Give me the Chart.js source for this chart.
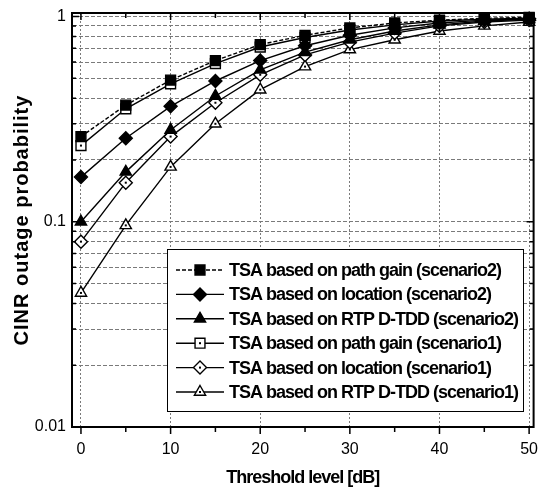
<!DOCTYPE html>
<html>
<head>
<meta charset="utf-8">
<script src="https://cdn.jsdelivr.net/npm/chart.js@4.4.0/dist/chart.umd.min.js"></script>
<style>
  html, body { margin: 0; padding: 0; background: #fff; }
  canvas { display: block; }
</style>
</head>
<body>
<canvas id="chart" width="542" height="493"></canvas>
<script>
// Data
const thresholds = [0, 5, 10, 15, 20, 25, 30, 35, 40, 45, 50];
const pathGainS2 = [0.26, 0.37, 0.49, 0.61, 0.73, 0.81, 0.88, 0.93, 0.96, 0.98, 0.99];
const locationS2 = [0.165, 0.255, 0.365, 0.485, 0.61, 0.72, 0.81, 0.88, 0.93, 0.96, 0.975];
const rtpS2 = [0.10, 0.175, 0.28, 0.41, 0.55, 0.67, 0.77, 0.85, 0.91, 0.95, 0.97];
const pathGainS1 = [0.235, 0.355, 0.47, 0.59, 0.71, 0.79, 0.86, 0.91, 0.95, 0.97, 0.98];
const locationS1 = [0.08, 0.155, 0.26, 0.38, 0.52, 0.65, 0.75, 0.83, 0.90, 0.94, 0.96];
const rtpS1 = [0.045, 0.096, 0.185, 0.30, 0.44, 0.57, 0.69, 0.77, 0.85, 0.90, 0.94];

const seriesLabels = [
  'TSA based on path gain (scenario2)',
  'TSA based on location (scenario2)',
  'TSA based on RTP D-TDD (scenario2)',
  'TSA based on path gain (scenario1)',
  'TSA based on location (scenario1)',
  'TSA based on RTP D-TDD (scenario1)'
];

const xTickValues = [0, 5, 10, 15, 20, 25, 30, 35, 40, 45, 50];
const yTickValues = [0.01, 0.02, 0.03, 0.04, 0.05, 0.06, 0.07, 0.08, 0.09,
  0.1, 0.2, 0.3, 0.4, 0.5, 0.6, 0.7, 0.8, 0.9, 1];
const yTickLabels = { 0.01: '0.01', 0.1: '0.1', 1: '1' };

const FONT = "'Liberation Sans', Arial, sans-serif";
const OPEN_SERIES = [3, 4, 5];

Chart.defaults.font.family = FONT;
Chart.defaults.color = '#000';

function makeSeries(label, data, style, filled, dash) {
  return {
    label: label,
    data: thresholds.map((t, i) => ({ x: t, y: data[i] })),
    borderColor: '#000',
    borderWidth: 1.4,
    borderDash: dash || [],
    pointStyle: style,
    pointRadius: style === 'rect' ? 7 : 6.5,
    pointBorderWidth: 1.4,
    pointBorderColor: '#000',
    pointBackgroundColor: filled ? '#000' : '#fff',
    tension: 0,
    clip: false
  };
}

// Frame, inward ticks, axis titles and the boxed legend
const decorations = {
  id: 'decorations',
  afterDatasetsDraw(chart) {
    const ctx = chart.ctx;
    ctx.save();
    ctx.fillStyle = '#000';
    OPEN_SERIES.forEach(i => {
      chart.getDatasetMeta(i).data.forEach(pt => {
        ctx.fillRect(pt.x - 1, pt.y - 1, 2, 2);
      });
    });
    ctx.restore();
  },
  afterDraw(chart) {
    const { ctx, chartArea: a, scales: { x, y } } = chart;
    ctx.save();
    ctx.strokeStyle = '#000';
    ctx.lineWidth = 2;
    ctx.strokeRect(a.left, a.top, a.right - a.left, a.bottom - a.top);

    ctx.lineWidth = 1.5;
    ctx.beginPath();
    yTickValues.forEach(v => {
      const py = y.getPixelForValue(v);
      const len = yTickLabels[v] ? 7 : 4;
      ctx.moveTo(a.left, py); ctx.lineTo(a.left + len, py);
      ctx.moveTo(a.right, py); ctx.lineTo(a.right - len, py);
    });
    xTickValues.forEach(v => {
      const px = x.getPixelForValue(v);
      const len = v % 10 === 0 ? 7 : 5;
      ctx.moveTo(px, a.bottom); ctx.lineTo(px, a.bottom + len);
      ctx.moveTo(px, a.top); ctx.lineTo(px, a.top + len);
    });
    ctx.stroke();

    // axis titles
    ctx.fillStyle = '#000';
    ctx.textAlign = 'center';
    ctx.textBaseline = 'middle';
    ctx.font = 'bold 18px ' + FONT;
    ctx.letterSpacing = '-1px';
    ctx.fillText('Threshold level [dB]', (a.left + a.right) / 2, 478);

    ctx.save();
    ctx.translate(22, (a.top + a.bottom) / 2);
    ctx.rotate(-Math.PI / 2);
    ctx.font = 'bold 20px ' + FONT;
    ctx.letterSpacing = '1px';
    ctx.fillText('CINR outage probability', 0, 0);
    ctx.restore();

    // legend
    const box = { left: 167, top: 249, right: 523, bottom: 411 };
    ctx.fillStyle = '#fff';
    ctx.fillRect(box.left, box.top, box.right - box.left, box.bottom - box.top);
    ctx.lineWidth = 1;
    ctx.strokeRect(box.left + 0.5, box.top + 0.5, box.right - box.left, box.bottom - box.top);

    ctx.font = 'bold 18px ' + FONT;
    ctx.letterSpacing = '-1px';
    ctx.textAlign = 'left';
    chart.data.datasets.forEach((ds, i) => {
      const ry = 270 + i * 24.4;
      ctx.strokeStyle = '#000';
      ctx.lineWidth = 1.4;
      ctx.setLineDash(ds.borderDash);
      ctx.beginPath();
      ctx.moveTo(176, ry); ctx.lineTo(224, ry);
      ctx.stroke();
      ctx.setLineDash([]);
      ctx.fillStyle = ds.pointBackgroundColor;
      Chart.helpers.drawPoint(ctx, {
        pointStyle: ds.pointStyle, radius: ds.pointRadius, borderWidth: 1.4, rotation: 0
      }, 200, ry);
      if (OPEN_SERIES.includes(i)) {
        ctx.fillStyle = '#000';
        ctx.fillRect(199, ry - 1, 2, 2);
      }
      ctx.fillStyle = '#000';
      ctx.fillText(ds.label, 229, ry + 1);
    });
    ctx.restore();
  }
};

new Chart(document.getElementById('chart'), {
  type: 'line',
  data: {
    datasets: [
      makeSeries(seriesLabels[0], pathGainS2, 'rect', true, [4, 2]),
      makeSeries(seriesLabels[1], locationS2, 'rectRot', true),
      makeSeries(seriesLabels[2], rtpS2, 'triangle', true),
      makeSeries(seriesLabels[3], pathGainS1, 'rect', false),
      makeSeries(seriesLabels[4], locationS1, 'rectRot', false),
      makeSeries(seriesLabels[5], rtpS1, 'triangle', false)
    ]
  },
  options: {
    responsive: false,
    animation: false,
    layout: { padding: { top: 13, right: 5, left: 0, bottom: 0 } },
    plugins: {
      legend: { display: false },
      tooltip: { enabled: false }
    },
    scales: {
      x: {
        type: 'linear',
        min: -1,
        max: 50.5,
        afterBuildTicks(scale) {
          scale.ticks = xTickValues.map(v => ({ value: v }));
        },
        afterFit(scale) {
          scale.height = 66;
          scale.paddingLeft = 0;
          scale.paddingRight = 0;
        },
        ticks: {
          autoSkip: false,
          maxRotation: 0,
          padding: 13,
          font: { size: 16 },
          callback: v => (v % 10 === 0 ? String(v) : '')
        },
        grid: {
          drawTicks: false,
          lineWidth: 1,
          color: ctx => (ctx.tick && ctx.tick.value % 10 === 0 ? '#7a7a7a' : 'rgba(0,0,0,0)')
        },
        border: { display: true, color: '#000', width: 2, dash: [2, 2] }
      },
      y: {
        type: 'logarithmic',
        min: 0.01,
        max: 1.04,
        afterBuildTicks(scale) {
          scale.ticks = yTickValues.map(v => ({ value: v }));
        },
        afterFit(scale) {
          scale.width = 72;
          scale.paddingTop = 0;
          scale.paddingBottom = 0;
        },
        ticks: {
          autoSkip: false,
          padding: 6,
          font: { size: 16 },
          callback: v => yTickLabels[v] || ''
        },
        grid: {
          drawTicks: false,
          lineWidth: 1,
          color: '#7a7a7a'
        },
        border: { display: true, color: '#000', width: 2, dash: [4, 2] }
      }
    }
  },
  plugins: [decorations]
});
</script>
</body>
</html>
